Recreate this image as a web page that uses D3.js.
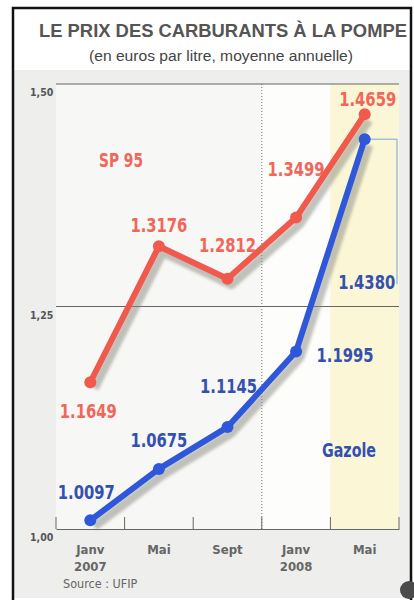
<!DOCTYPE html>
<html lang="fr">
<head>
  <meta charset="UTF-8">
  <style>
    body { margin: 0; background: #fff; overflow: hidden; }
    svg { display: block; }
    .narrow { font-family: "Liberation Sans Narrow", "DejaVu Sans Condensed", sans-serif; }
  </style>
  <script src="https://d3js.org/d3.v7.min.js"></script>
</head>
<body>
<svg id="chart"></svg>
<script>
  // data
  const months = ["Janv 2007", "Mai", "Sept", "Janv 2008", "Mai 2008"];
  const monthLines = [["Janv", "2007"], ["Mai"], ["Sept"], ["Janv", "2008"], ["Mai"]];
  const sp95 = [1.1649, 1.3176, 1.2812, 1.3499, 1.4659];
  const gazole = [1.0097, 1.0675, 1.1145, 1.1995, 1.4380];
  const yTicks = [1.00, 1.25, 1.50];

  // label placement relative to each point (layout only)
  const redOffsets = [[-2, 29], [0, -21], [0, -34], [0, -48], [3, -15]];
  const blueOffsets = [[-4, -28], [0, -29], [1, -41], [49, 4], [2, 143]];

  const W = 414, H = 600;
  const pLeft = 56, pRight = 399, pTop = 84, pBottom = 529;

  const svg = d3.select("#chart").attr("width", W).attr("height", H);

  const defs = svg.append("defs");
  defs.append("filter").attr("id", "blur")
    .append("feGaussianBlur").attr("stdDeviation", 1.6);

  // paper panel
  svg.append("rect").attr("x", 14).attr("y", 70).attr("width", 397).attr("height", 528)
    .attr("fill", "#eeeeec");

  const x = d3.scaleBand().domain(months).range([pLeft, pRight]);
  const cx = d => x(d) + x.bandwidth() / 2;
  const y = d3.scaleLinear().domain([1.0, 1.5]).range([pBottom, pTop]);

  // plot background bands
  svg.append("rect").attr("x", pLeft).attr("y", pTop).attr("width", pRight - pLeft).attr("height", pBottom - pTop)
    .attr("fill", "#f7f7f5");
  svg.append("rect").attr("x", x(months[3])).attr("y", pTop).attr("width", x.bandwidth()).attr("height", pBottom - pTop)
    .attr("fill", "#fdfdfc");
  svg.append("rect").attr("x", x(months[4])).attr("y", pTop).attr("width", x.bandwidth()).attr("height", pBottom - pTop)
    .attr("fill", "#fbf6d6");

  // frame
  svg.append("path").attr("d", "M13,600 V8 H411 V600").attr("fill", "none")
    .attr("stroke", "#111").attr("stroke-width", 2.5);

  // titles
  svg.append("text").attr("x", 223).attr("y", 37).attr("text-anchor", "middle")
    .attr("font-family", "Liberation Sans, Arial, sans-serif").attr("font-weight", "bold")
    .attr("font-size", 18).attr("fill", "#555")
    .attr("textLength", 368).attr("lengthAdjust", "spacingAndGlyphs")
    .text("LE PRIX DES CARBURANTS À LA POMPE");
  svg.append("text").attr("x", 221).attr("y", 61).attr("text-anchor", "middle")
    .attr("font-family", "Liberation Sans, Arial, sans-serif")
    .attr("font-size", 14).attr("fill", "#444")
    .attr("textLength", 264).attr("lengthAdjust", "spacingAndGlyphs")
    .text("(en euros par litre, moyenne annuelle)");

  // horizontal grid lines
  svg.append("g").selectAll("line").data(yTicks.slice(1)).join("line")
    .attr("x1", pLeft).attr("x2", pRight).attr("y1", y).attr("y2", y)
    .attr("stroke", "#666").attr("stroke-width", 1);

  // y labels
  svg.append("g").attr("class", "narrow").selectAll("text").data(yTicks).join("text")
    .attr("x", 30).attr("y", d => y(d) + 12)
    .attr("font-size", 10.5).attr("font-weight", "bold").attr("fill", "#555")
    .text(d => d3.format(".2f")(d).replace(".", ","));

  // dotted line at Janv 2008
  svg.append("line").attr("x1", x(months[3])).attr("x2", x(months[3]))
    .attr("y1", pTop).attr("y2", pBottom)
    .attr("stroke", "#777").attr("stroke-width", 1).attr("stroke-dasharray", "1,2");

  // x axis
  const xAxis = svg.append("g").attr("transform", `translate(0,${pBottom})`)
    .call(d3.axisBottom(x).tickSize(0).tickFormat(""));
  xAxis.select(".domain").attr("stroke", "#666");
  const tickPos = months.map(m => x(m)).concat([pRight]);
  svg.append("g").selectAll("line").data(tickPos).join("line")
    .attr("x1", d => d).attr("x2", d => d).attr("y1", pBottom).attr("y2", pBottom - 12)
    .attr("stroke", "#666");

  // month labels
  const ml = svg.append("g").attr("class", "narrow");
  months.forEach((m, i) => {
    monthLines[i].forEach((t, j) => {
      ml.append("text").attr("x", cx(m)).attr("y", 554 + j * 17)
        .attr("text-anchor", "middle").attr("font-size", 13).attr("font-weight", "bold")
        .attr("fill", "#666").text(t);
    });
  });

  svg.append("text").attr("class", "narrow").attr("x", 63).attr("y", 588)
    .attr("font-size", 12.5).attr("fill", "#666").text("Source : UFIP");

  // leader line for the last gazole value
  const lx = cx(months[4]), ly = y(gazole[4]);
  svg.append("path").attr("d", `M${lx},${ly} H${pRight - 2} V${ly + 145}`)
    .attr("fill", "none").attr("stroke", "#7aa3d8").attr("stroke-width", 1);

  const line = d3.line().x((d, i) => cx(months[i])).y(d => y(d));

  function series(vals, color) {
    svg.append("path").datum(vals).attr("d", line)
      .attr("transform", "translate(4,6)")
      .attr("fill", "none").attr("stroke", "#8a8a80").attr("stroke-width", 9)
      .attr("opacity", 0.5).attr("filter", "url(#blur)")
      .attr("stroke-linejoin", "round");
    svg.append("path").datum(vals).attr("d", line)
      .attr("fill", "none").attr("stroke", color).attr("stroke-width", 6)
      .attr("stroke-linejoin", "round").attr("stroke-linecap", "round");
    svg.append("g").selectAll("circle").data(vals).join("circle")
      .attr("cx", (d, i) => cx(months[i])).attr("cy", d => y(d)).attr("r", 6)
      .attr("fill", color);
  }
  series(sp95, "#f0594b");
  series(gazole, "#2e58d9");

  function labels(vals, offs, color) {
    svg.append("g").attr("class", "narrow").selectAll("text").data(vals).join("text")
      .attr("x", (d, i) => cx(months[i]) + offs[i][0])
      .attr("y", (d, i) => y(d) + offs[i][1])
      .attr("dy", "0.36em").attr("text-anchor", "middle")
      .attr("font-size", 19).attr("font-weight", "bold")
      .attr("textLength", 57).attr("lengthAdjust", "spacingAndGlyphs")
      .attr("fill", color).text(d => d3.format(".4f")(d));
  }
  labels(sp95, redOffsets, "#f0675a");
  labels(gazole, blueOffsets, "#3450b0");

  svg.append("text").attr("class", "narrow").attr("x", 121).attr("y", 160).attr("dy", "0.36em")
    .attr("text-anchor", "middle").attr("font-size", 19).attr("font-weight", "bold")
    .attr("textLength", 44).attr("lengthAdjust", "spacingAndGlyphs")
    .attr("fill", "#f0675a").text("SP 95");
  svg.append("text").attr("class", "narrow").attr("x", 349).attr("y", 450).attr("dy", "0.36em")
    .attr("text-anchor", "middle").attr("font-size", 19).attr("font-weight", "bold")
    .attr("textLength", 54).attr("lengthAdjust", "spacingAndGlyphs")
    .attr("fill", "#3450b0").text("Gazole");

  // logo mark
  svg.append("circle").attr("cx", 409).attr("cy", 590).attr("r", 9).attr("fill", "#4a4a4a");
</script>
</body>
</html>
